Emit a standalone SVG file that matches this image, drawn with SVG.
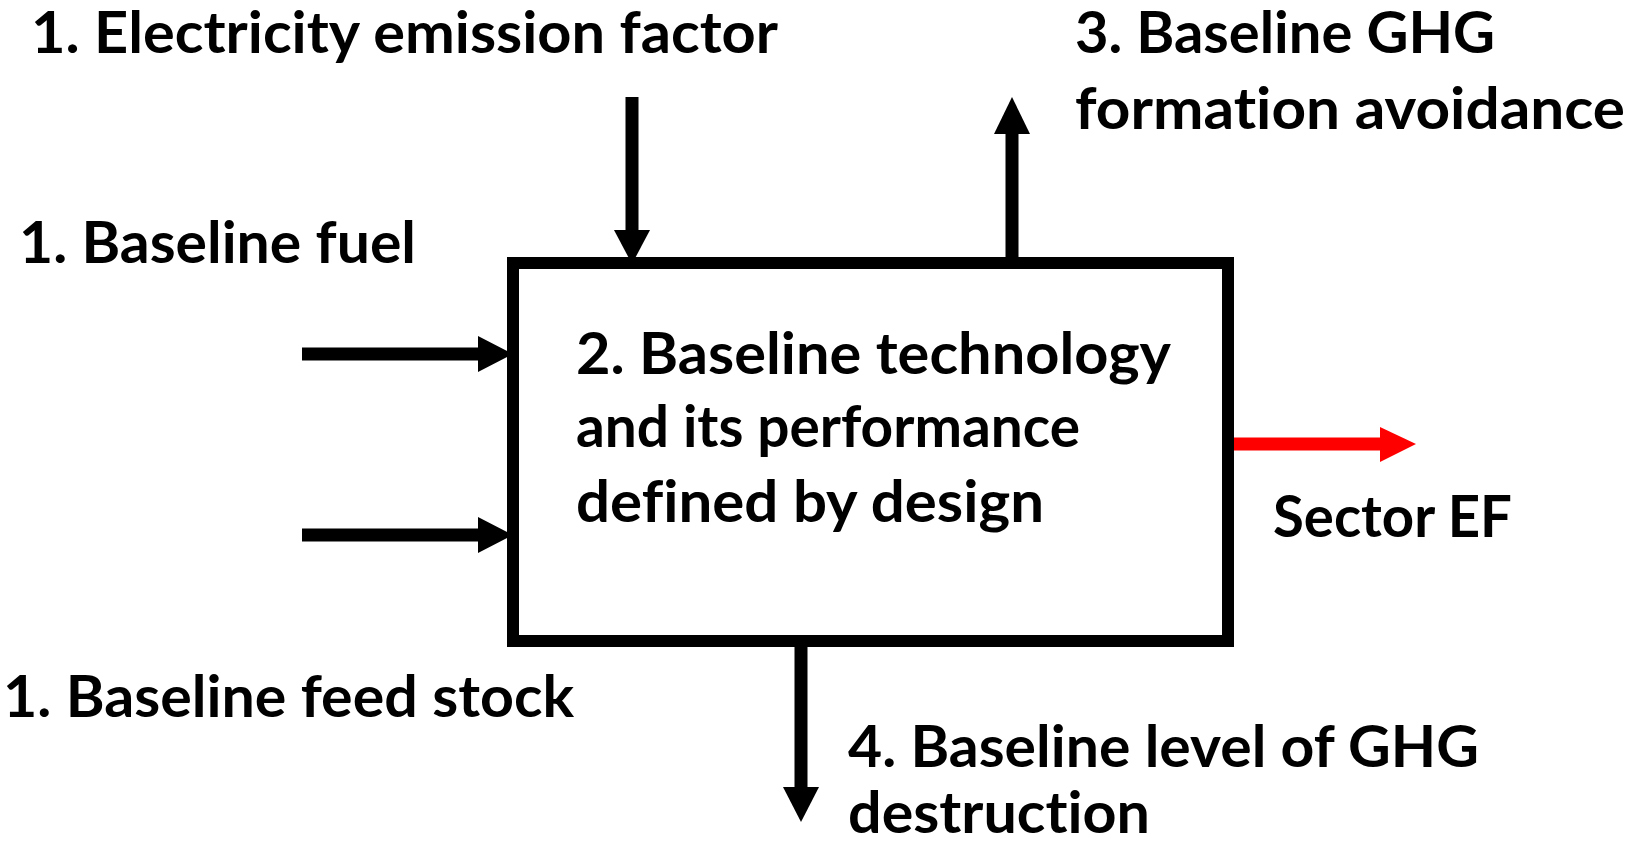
<svg xmlns="http://www.w3.org/2000/svg" width="1637" height="843" viewBox="0 0 1637 843">
<style>
text{font-family:Lato,"Open Sans","Liberation Sans",sans-serif;font-weight:bold;font-size:57px;fill:#000;font-variant-ligatures:none;font-feature-settings:"liga" 0,"dlig" 0}
.ln{stroke:#000;stroke-width:13;fill:none}
.red{stroke:#ff0000;stroke-width:13;fill:none}
.hd{fill:#000}
.hr{fill:#ff0000}
</style>
<rect width="1637" height="843" fill="#fff"/>
<g id="connectors">
<line class="ln" x1="632" y1="97" x2="632" y2="232"/>
<polygon class="hd" points="614,230 650,230 632,264"/>
<line class="ln" x1="1012" y1="260" x2="1012" y2="130"/>
<polygon class="hd" points="994,134 1030,134 1012,97"/>
<line class="ln" x1="302" y1="354" x2="480" y2="354"/>
<polygon class="hd" points="478,336 478,372 513,354"/>
<line class="ln" x1="302" y1="535" x2="480" y2="535"/>
<polygon class="hd" points="478,517 478,553 513,535"/>
<line class="ln" x1="801" y1="647" x2="801" y2="790"/>
<polygon class="hd" points="783,787 819,787 801,822"/>
<line class="red" x1="1226" y1="444" x2="1384" y2="444"/>
<polygon class="hr" points="1380,427 1380,462 1416,444"/>
</g>
<g id="box">
<rect x="513" y="263" width="715" height="378" fill="none" stroke="#000" stroke-width="12"/>
<text x="576" y="374" textLength="595" lengthAdjust="spacingAndGlyphs">2. Baseline technology</text>
<text x="576" y="447" textLength="504" lengthAdjust="spacingAndGlyphs">and its performance</text>
<text x="576" y="522" textLength="468" lengthAdjust="spacingAndGlyphs">defined by design</text>
</g>
<g id="label-electricity">
<text x="31" y="53" textLength="747" lengthAdjust="spacingAndGlyphs">1. Electricity emission factor</text>
</g>
<g id="label-fuel">
<text x="19" y="263" textLength="397" lengthAdjust="spacingAndGlyphs">1. Baseline fuel</text>
</g>
<g id="label-feedstock">
<text x="3" y="717" textLength="571" lengthAdjust="spacingAndGlyphs">1. Baseline feed stock</text>
</g>
<g id="label-formation">
<text x="1075" y="53" textLength="420" lengthAdjust="spacingAndGlyphs">3. Baseline GHG</text>
<text x="1075" y="129" textLength="550" lengthAdjust="spacingAndGlyphs">formation avoidance</text>
</g>
<g id="label-sector">
<text x="1273" y="537" textLength="239" lengthAdjust="spacingAndGlyphs">Sector EF</text>
</g>
<g id="label-destruction">
<text x="848" y="767" textLength="631" lengthAdjust="spacingAndGlyphs">4. Baseline level of GHG</text>
<text x="848" y="833" textLength="302" lengthAdjust="spacingAndGlyphs">destruction</text>
</g>
</svg>
